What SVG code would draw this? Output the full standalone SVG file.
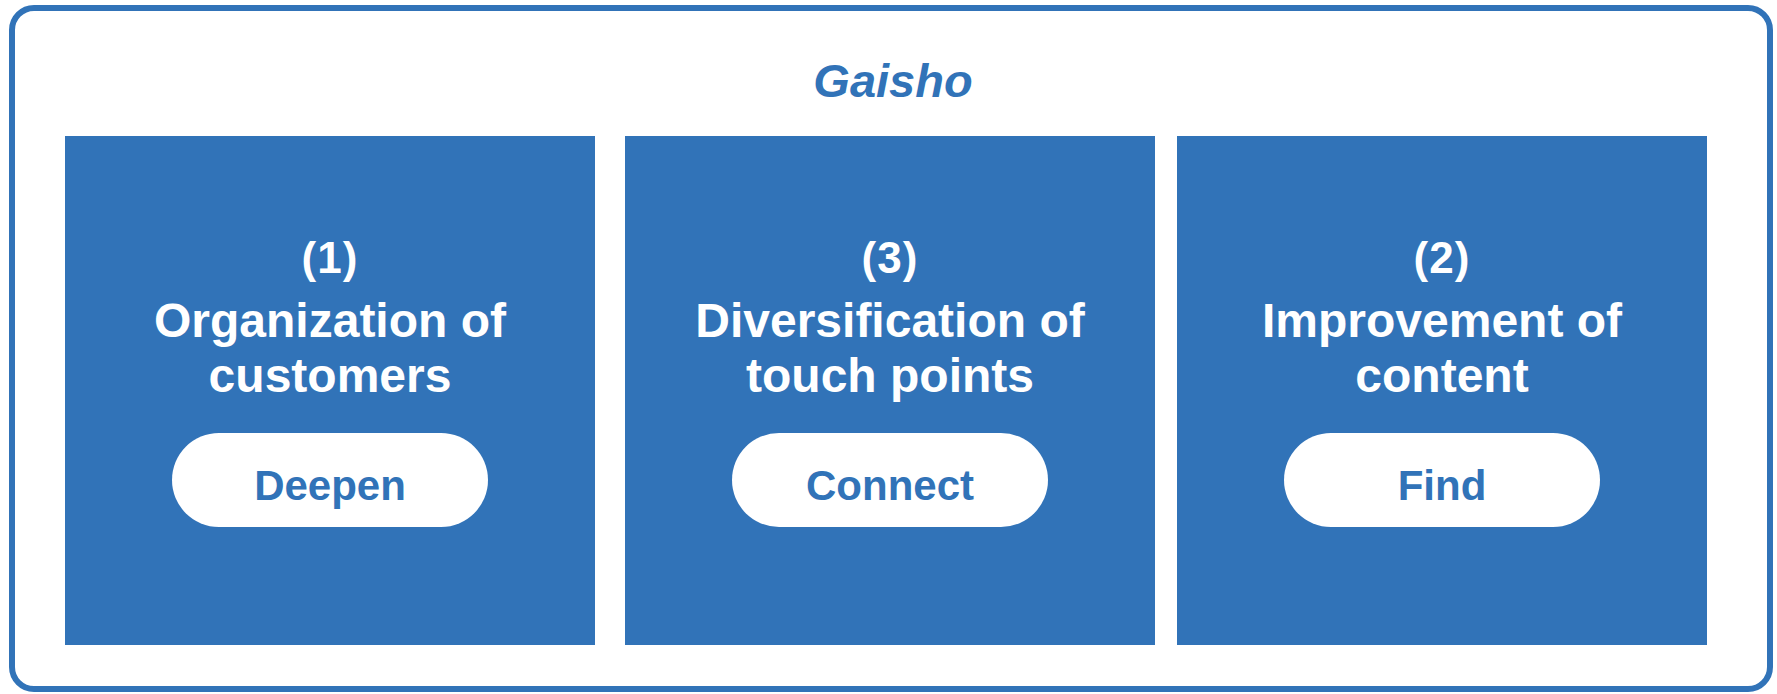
<svg xmlns="http://www.w3.org/2000/svg" width="1777" height="694" viewBox="0 0 1777 694">
<style>
.box{fill:#3173B8;}
.pill{fill:#FFFFFF;}
.num{font-family:"Liberation Sans",Arial,sans-serif;font-weight:bold;font-size:44px;fill:#FFFFFF;text-anchor:middle;}
.head{font-family:"Liberation Sans",Arial,sans-serif;font-weight:bold;font-size:48px;fill:#FFFFFF;text-anchor:middle;}
.lbl{font-family:"Liberation Sans",Arial,sans-serif;font-weight:bold;font-size:42px;fill:#3173B8;text-anchor:middle;}
</style>
<rect width="1777" height="694" fill="#FFFFFF"/>
<g id="frame">
<rect x="12" y="8" width="1758" height="681" rx="22" ry="22" fill="#FFFFFF" stroke="#3173B8" stroke-width="6"/>
<text x="893" y="97" font-family="Liberation Sans, Arial, sans-serif" font-weight="bold" font-style="italic" font-size="47" fill="#3173B8" text-anchor="middle">Gaisho</text>
</g>
<g id="node1">
<rect class="box" x="65" y="136" width="530" height="509"/>
<text class="num" x="330" y="273" letter-spacing="1">(1)</text>
<text class="head" x="330" y="337">Organization of</text>
<text class="head" x="330" y="392">customers</text>
<rect class="pill" x="172" y="433" width="316" height="94" rx="47" ry="47"/>
<text class="lbl" x="330" y="500">Deepen</text>
</g>
<g id="node2">
<rect class="box" x="625" y="136" width="530" height="509"/>
<text class="num" x="890" y="273" letter-spacing="1">(3)</text>
<text class="head" x="890" y="337">Diversification of</text>
<text class="head" x="890" y="392">touch points</text>
<rect class="pill" x="732" y="433" width="316" height="94" rx="47" ry="47"/>
<text class="lbl" x="890" y="500">Connect</text>
</g>
<g id="node3">
<rect class="box" x="1177" y="136" width="530" height="509"/>
<text class="num" x="1442" y="273" letter-spacing="1">(2)</text>
<text class="head" x="1442" y="337">Improvement of</text>
<text class="head" x="1442" y="392">content</text>
<rect class="pill" x="1284" y="433" width="316" height="94" rx="47" ry="47"/>
<text class="lbl" x="1442" y="500">Find</text>
</g>
<g id="connectors"></g>
</svg>
